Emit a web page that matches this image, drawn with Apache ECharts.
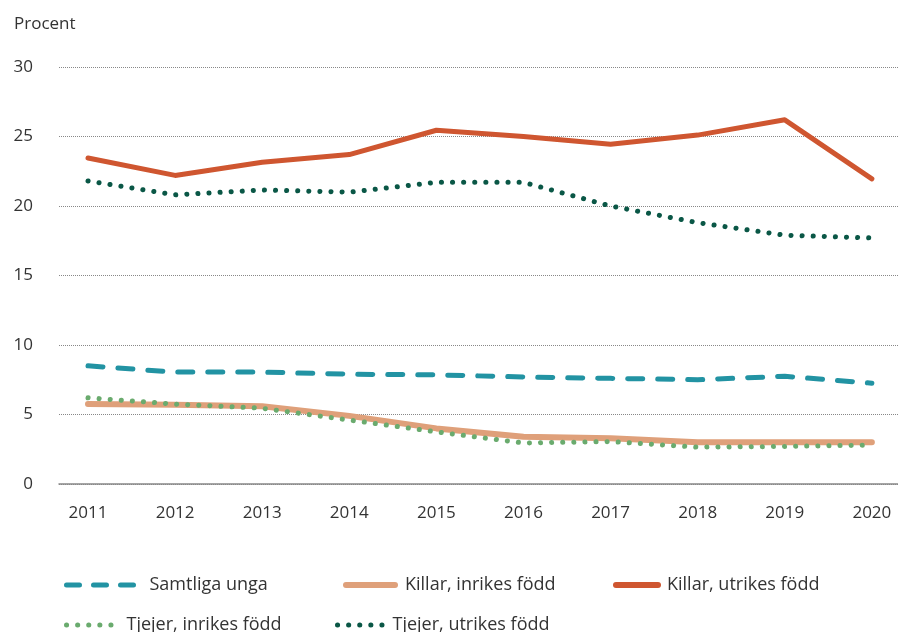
<!DOCTYPE html>
<html>
<head>
<meta charset="utf-8">
<script src="https://cdn.jsdelivr.net/npm/echarts@6/dist/echarts.min.js"></script>
<style>
  html, body { margin: 0; padding: 0; background: #fff; }
  #chart { width: 898px; height: 632px; }
</style>
</head>
<body>
<div id="chart"></div>
<script>
var years = [2011, 2012, 2013, 2014, 2015, 2016, 2017, 2018, 2019, 2020];
var samtliga = [8.5, 8.05, 8.05, 7.9, 7.85, 7.7, 7.6, 7.5, 7.75, 7.25];
var killarInrikes = [5.75, 5.7, 5.6, 4.9, 4.0, 3.4, 3.3, 3.0, 3.0, 3.0];
var killarUtrikes = [23.45, 22.2, 23.15, 23.7, 25.45, 25.0, 24.45, 25.1, 26.2, 21.95];
var tjejerInrikes = [6.2, 5.75, 5.45, 4.6, 3.75, 2.95, 3.05, 2.65, 2.7, 2.8];
var tjejerUtrikes = [21.8, 20.8, 21.15, 21.0, 21.7, 21.7, 20.0, 18.8, 17.9, 17.7];

function pairs(vals) {
    return years.map(function (y, i) { return [y, vals[i]]; });
}

var font = '"Open Sans", "Noto Sans", sans-serif';

function lineSeries(name, vals, color, width, type) {
    return {
        name: name,
        type: 'line',
        data: pairs(vals),
        showSymbol: false,
        symbol: 'none',
        smooth: false,
        lineStyle: { color: color, width: width, type: type, cap: 'round', join: 'round' },
        itemStyle: { color: color }
    };
}

// one legend per entry so each can sit where the reference puts it
function legendItem(name, left, top, width, gap, lineStyle) {
    return {
        data: [name],
        left: left,
        top: top,
        padding: 0,
        itemWidth: width,
        itemHeight: 14,
        lineStyle: lineStyle,
        itemStyle: { opacity: 0 },
        textStyle: { color: '#333', fontSize: 18, fontFamily: font, padding: [0, 0, 0, gap] }
    };
}

var option = {
    animation: false,
    textStyle: { fontFamily: font },
    grid: { left: 59, right: 0, top: 67, bottom: 148 },
    title: {
        text: 'Procent',
        left: 9,
        top: 11,
        textStyle: { color: '#333', fontSize: 17, fontWeight: 'normal', fontFamily: font }
    },
    xAxis: {
        type: 'value',
        min: 2010.667,
        max: 2020.3,
        splitLine: { show: false },
        axisTick: { show: false },
        axisLine: { show: true, lineStyle: { color: '#888', width: 1.5 } },
        axisLabel: {
            customValues: years,
            color: '#333',
            fontSize: 17,
            margin: 21,
            formatter: function (v) { return String(v); }
        }
    },
    yAxis: {
        type: 'value',
        min: 0,
        max: 30,
        interval: 5,
        axisLine: { show: false },
        axisTick: { show: false },
        axisLabel: { color: '#333', fontSize: 17, margin: 26 },
        splitLine: { lineStyle: { color: '#888', type: [1, 1], width: 1 } }
    },
    legend: [
        legendItem('Samtliga unga', 64, 576, 69, 9, { color: '#2293a3', width: 5, type: [13, 14], cap: 'round' }),
        legendItem('Killar, inrikes född', 343, 576, 49, 5, { color: '#dfa07a', width: 6, type: 'solid', cap: 'round' }),
        legendItem('Killar, utrikes född', 613, 576, 42, 4, { color: '#cf5630', width: 6, type: 'solid', cap: 'round' }),
        legendItem('Tjejer, inrikes född', 64, 616, 51, 4, { color: '#6aab6e', width: 5, type: [0.1, 11], cap: 'round' }),
        legendItem('Tjejer, utrikes född', 335, 616, 47, 3, { color: '#0a5746', width: 5, type: [0.1, 11], cap: 'round' })
    ],
    series: [
        lineSeries('Killar, inrikes född', killarInrikes, '#dfa07a', 6, 'solid'),
        lineSeries('Tjejer, inrikes född', tjejerInrikes, '#6aab6e', 5, [0.1, 11]),
        lineSeries('Samtliga unga', samtliga, '#2293a3', 5, [15, 15]),
        lineSeries('Killar, utrikes född', killarUtrikes, '#cf5630', 5, 'solid'),
        lineSeries('Tjejer, utrikes född', tjejerUtrikes, '#0a5746', 5, [0.1, 11])
    ]
};

var myChart = echarts.init(document.getElementById('chart'));
myChart.setOption(option);
</script>
</body>
</html>
